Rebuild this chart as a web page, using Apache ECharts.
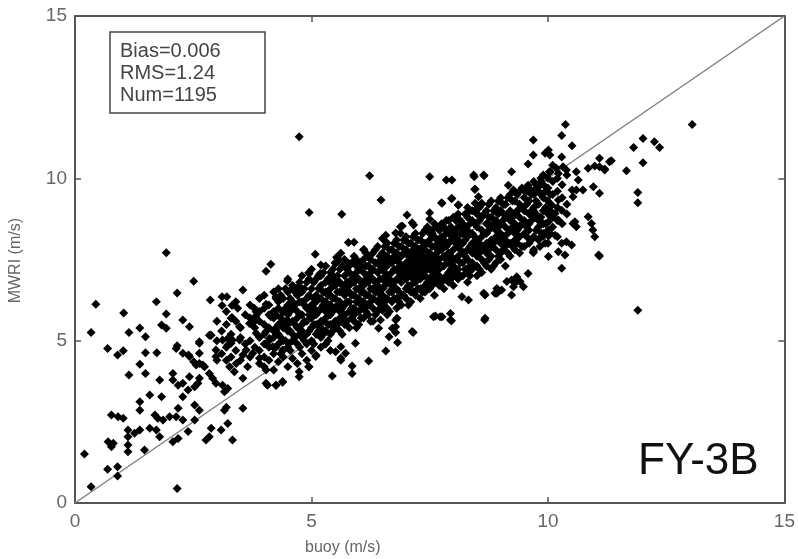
<!DOCTYPE html>
<html>
<head>
<meta charset="utf-8">
<title>FY-3B MWRI vs buoy</title>
<script src="https://cdn.jsdelivr.net/npm/echarts@6/dist/echarts.min.js"></script>
<style>
  html, body { margin: 0; padding: 0; background: #fff; }
  #chart { width: 798px; height: 559px; }
</style>
</head>
<body>
<div id="chart"></div>
<script>
// [buoy, MWRI] pairs (m/s)
const leftPts = [
  [0.44,6.12],[0.34,5.25],[1.03,5.85],[1.14,5.25],[1.37,5.39],[1.49,5.12],[1.72,6.2],[1.93,5.82],[1.83,5.48],[1.93,5.38],
  [2.16,6.47],[2.51,6.83],[2.28,5.64],[2.42,5.43],[2.86,6.25],[2.86,5.17],[3.11,6.35],[3.21,6.35],[3.11,6.08],[3.32,6.08],
  [3.32,5.71],[3.44,6.0],[3.55,6.56],[4.04,7.14],[4.14,7.35],[4.25,6.35],[4.04,6.12],[4.49,6.84],[4.6,6.61],[4.74,6.68],
  [4.74,6.46],[4.94,7.09],[5.08,7.66],[4.94,6.35],[3.79,6.0],[3.83,5.77],[3.72,5.53],[4.14,5.74],[4.39,5.89],[4.49,5.64],
  [0.69,4.76],[0.9,4.56],[1.02,4.69],[1.49,4.63],[1.73,4.63],[1.37,4.27],[1.14,3.94],[1.49,3.99],[2.16,4.84],[2.28,4.61],
  [2.4,4.56],[2.63,4.92],[2.63,4.61],[2.51,4.35],[2.63,4.3],[2.74,4.2],[2.88,5.17],[2.98,4.71],[2.98,4.51],[3.12,5.02],
  [3.23,4.87],[3.33,5.02],[3.2,4.4],[3.27,4.2],[3.37,4.04],[3.41,4.3],[3.55,4.56],[3.65,4.2],[1.79,3.79],[2.07,3.99],
  [2.07,3.79],[2.18,3.63],[2.28,3.69],[2.39,3.48],[2.53,3.58],[2.6,3.69],[2.63,3.84],[2.42,3.89],[2.84,3.99],[2.91,3.84],
  [2.98,3.69],[3.12,3.63],[3.16,3.43],[3.23,3.53],[1.58,3.33],[1.37,3.12],[1.37,2.86],[1.83,3.27],[2.28,3.27],[0.77,2.71],
  [0.91,2.66],[1.02,2.61],[1.69,2.71],[1.75,2.61],[1.86,2.56],[2.0,2.66],[2.14,2.66],[2.28,2.56],[2.18,2.92],[2.53,3.02],
  [2.63,2.86],[2.53,2.56],[3.16,2.86],[3.2,2.95],[3.55,2.92],[1.12,2.25],[1.12,2.04],[1.12,1.79],[1.12,1.58],[1.26,2.15],
  [1.37,2.25],[1.58,2.3],[1.72,2.25],[1.79,2.04],[0.7,1.89],[0.77,1.73],[0.81,1.84],[1.47,1.63],[2.07,1.89],[2.18,1.99],
  [2.39,2.2],[2.77,1.94],[2.84,2.04],[2.88,2.3],[3.09,2.25],[3.23,2.45],[3.33,1.94],[0.2,1.51],[0.69,1.04],[0.9,1.12],
  [0.9,0.83],[0.34,0.5],[2.16,0.45],[4.04,3.69],[4.25,3.63],[4.39,3.72],[4.74,4.04],[4.74,3.89],[4.94,4.2],[3.55,3.84],
  [4.04,4.1],[2.84,5.17],[2.63,4.97],[2.14,4.76],[3.23,5.07],[3.3,4.92],[3.48,5.02],[3.83,5.23],[4.04,5.28],[4.11,5.07],
  [4.25,5.33],[3.62,4.71],[3.76,4.61],[3.9,4.46],[2.42,4.51],[2.56,4.25],[2.7,4.25],[4.18,4.81],[4.39,4.71],[4.53,4.92],
  [3.3,5.69],[3.48,5.43],[3.69,5.53],[3.83,5.89],[1.93,7.71]
];

const upperPts = [
  [4.74,11.28],[4.95,8.95],[5.64,8.89],[6.23,10.08],[6.47,9.33],[7.5,10.05],[7.85,9.95],[8.44,10.05],[8.65,10.08],[8.45,9.66],
  [8.53,9.43],[8.46,9.23],[8.6,9.23],[7.75,9.25],[7.96,9.38],[8.1,9.18],[7.5,8.94],[7.5,8.74],[7.02,8.87],[6.92,8.53],
  [7.13,8.63],[6.78,8.32],[6.88,8.31],[6.5,8.15],[6.57,8.05],[5.78,8.02],[5.62,7.69],[5.55,7.54],[5.51,7.38],[5.9,8.03],
  [6.11,7.81],[5.53,7.57],[5.58,7.48],[5.79,7.38],[5.93,7.33],[5.2,7.33],[5.18,7.07],[4.95,7.07],[5.44,7.02],[5.37,6.82],
  [7.76,9.23],[8.11,9.18],[7.16,8.56],[6.88,8.51],[6.57,8.25],[7.55,8.31],[7.86,8.36],[8.18,8.51],[8.53,8.87],[8.74,8.61],
  [8.95,8.51],[9.09,8.87],[9.37,9.02],[9.69,9.02],[7.97,9.95],[8.43,10.1],[8.64,10.1],[8.46,9.66],[7.97,9.38]
];

const lowerPts = [
  [8.88,6.46],[8.66,5.64],[8.66,6.43],[7.94,5.84],[7.94,5.64],[7.72,5.74],[7.58,5.74],[7.15,5.25],[6.82,4.94],[6.57,4.68],
  [6.21,4.37],[5.86,4.22],[5.86,3.99],[5.44,3.91],[4.95,4.2],[4.39,3.74],[4.25,3.63],[4.07,3.63],[5.62,4.46],[5.72,4.61],
  [6.78,5.25],[6.64,5.12],[8.95,6.51],[9.23,6.41],[9.48,6.66],[9.34,6.82],[7.62,5.76],[7.76,5.74],[7.96,5.61],[5.62,4.4],
  [5.51,4.66],[5.09,4.51],[6.42,5.38],[6.46,5.64],[6.81,5.69],[6.78,5.43],[5.93,4.92],[5.62,4.81],[9.58,7.07],[9.34,6.87],
  [9.13,6.82],[8.92,6.61],[8.67,6.41],[8.67,5.69],[7.13,5.28],[8.32,6.25],[8.18,6.35],[6.5,5.94],[6.78,5.64],[6.71,5.38],
  [9.41,6.82],[9.27,6.66],[9.02,6.56],[8.92,6.46],[8.64,6.46],[9.23,6.87]
];

const rightPts = [
  [10.37,11.66],[13.05,11.66],[9.69,11.18],[10.29,11.32],[10.51,11.0],[9.69,10.72],[9.58,10.44],[10.01,10.87],[9.94,10.77],[10.04,10.72],
  [10.29,10.66],[10.32,10.36],[10.18,10.31],[10.39,10.26],[10.03,10.2],[10.22,10.15],[10.6,10.2],[10.64,9.95],[10.6,9.64],[10.53,9.43],
  [10.51,9.64],[10.74,9.64],[10.85,10.31],[10.99,10.38],[11.09,10.62],[11.2,10.29],[11.34,10.54],[10.96,9.74],[11.09,9.54],[11.66,10.23],
  [11.81,10.95],[12.01,11.23],[12.25,11.13],[12.36,10.95],[12.01,10.48],[11.9,9.56],[11.9,9.25],[11.9,5.94],[10.85,8.82],[10.92,8.61],
  [10.99,8.2],[10.95,8.41],[10.53,8.61],[10.6,8.51],[10.57,8.66],[11.07,7.64],[10.29,7.23],[10.29,8.0],[10.36,7.64],[10.22,7.74],
  [10.5,7.95],[10.39,8.05],[10.15,8.25],[10.01,8.22],[9.9,8.22],[10.01,7.59],[9.69,7.71],[9.83,7.9],[9.34,6.97],[10.01,8.66],
  [10.15,8.92],[10.22,8.72],[10.22,9.33],[10.29,9.02],[10.08,9.18],[9.8,9.74],[9.86,9.9],[9.72,9.64],[9.58,9.79],[9.48,9.64],
  [9.23,10.2],[9.16,9.79],[9.27,9.64],[11.09,7.61],[11.3,10.51],[11.2,10.26],[11.09,10.36],[9.69,7.74],[9.94,8.0],[9.86,8.31]
];

// dense core: buoy value -> MWRI values stacked above it
const coreCols = [
  [3.0,[4.4,5.0,5.6]],[3.1,[4.6,5.3]],[3.2,[4.8,5.5,5.9]],[3.3,[4.5,5.2]],[3.4,[4.7,5.6,6.2]],
  [3.5,[4.4,5.1,5.4]],[3.6,[4.9,5.8]],[3.7,[4.5,5.0,5.7,6.1]],[3.8,[4.8,5.4,5.6]],
  [3.9,[4.3,4.7,5.1,5.6,5.9,6.3]],[4.0,[4.2,4.5,4.9,5.2,5.5,6.0,6.4]],[4.1,[4.4,4.8,5.0,5.4,5.8,6.1]],
  [4.2,[4.1,4.6,5.1,5.3,5.7,5.9,6.5]],[4.3,[4.35,4.9,5.2,5.5,6.0,6.2,6.6]],[4.4,[4.5,4.7,5.0,5.4,5.6,5.9,6.3]],
  [4.5,[4.2,4.8,5.3,5.5,5.8,6.1,6.5,6.9]],[4.6,[4.45,5.0,5.2,5.6,6.0,6.2,6.7]],[4.7,[4.3,4.9,5.4,5.7,5.9,6.4,6.6]],
  [4.8,[4.6,5.1,5.3,5.5,5.8,6.2,6.5,7.0]],[4.9,[4.4,4.9,5.2,5.6,6.0,6.3,6.8]],[5.0,[4.7,5.0,5.4,5.7,5.9,6.1,6.6,7.2]],
  [5.1,[4.55,5.2,5.5,5.8,6.2,6.4,6.9]],[5.2,[4.8,5.1,5.4,5.6,6.0,6.3,6.7,7.0]],[5.3,[4.9,5.3,5.7,5.9,6.2,6.5,6.8,7.3]],
  [5.4,[4.7,5.2,5.5,5.8,6.1,6.4,6.6,7.1]],[5.5,[5.4,5.6,6.0,6.3,6.7,6.9,7.4]],[5.6,[5.3,5.7,5.9,6.2,6.5,6.8,7.2]],
  [5.7,[5.5,5.8,6.1,6.4,6.6,7.0,7.5]],[5.8,[5.4,5.9,6.2,6.5,6.7,7.1,7.3]],[5.9,[5.6,5.8,6.0,6.4,6.8,7.0,7.6]],
  [6.0,[5.5,5.9,6.3,6.6,6.9,7.2,7.4]],[6.1,[5.7,6.0,6.2,6.5,6.7,7.1,7.5,7.8]],[6.2,[5.8,6.1,6.4,6.8,7.0,7.3,7.6]],
  [6.3,[5.6,6.0,6.3,6.6,6.9,7.2,7.7]],[6.4,[5.9,6.2,6.5,6.7,7.1,7.4,7.9]],[6.5,[6.1,6.4,6.6,6.9,7.2,7.5,7.7]],
  [6.6,[5.8,6.0,6.3,6.8,7.0,7.3,7.6,8.0]],[6.7,[6.2,6.5,6.7,7.1,7.4,7.8]],[6.8,[6.0,6.3,6.6,6.9,7.2,7.5,7.7,8.1]],
  [6.9,[6.1,6.4,6.8,7.0,7.3,7.6,7.9]],[7.0,[6.3,6.6,6.9,7.1,7.4,7.8,8.2]],[7.1,[6.2,6.5,6.7,7.0,7.2,7.5,7.7,8.0]],
  [7.2,[6.4,6.8,7.1,7.3,7.6,7.9,8.3]],[7.3,[6.3,6.6,6.9,7.2,7.4,7.7,8.1]],[7.4,[6.5,6.7,7.0,7.3,7.5,7.8,8.0,8.4]],
  [7.5,[6.6,6.9,7.2,7.4,7.7,8.1,8.3]],[7.6,[6.4,6.8,7.1,7.3,7.6,7.9,8.2,8.6]],[7.7,[6.7,7.0,7.2,7.5,7.8,8.0,8.4]],
  [7.8,[6.6,6.9,7.3,7.6,7.9,8.1,8.5]],[7.9,[6.8,7.1,7.4,7.7,8.0,8.3,8.7]],[8.0,[6.7,7.0,7.3,7.5,7.8,8.2,8.4,8.8]],
  [8.1,[6.9,7.2,7.6,7.9,8.1,8.5,8.9]],[8.2,[7.0,7.4,7.7,8.0,8.3,8.6]],[8.3,[6.8,7.1,7.5,7.8,8.2,8.4,8.8,9.1]],
  [8.4,[7.2,7.4,7.7,8.0,8.3,8.7,9.0]],[8.5,[7.0,7.3,7.6,7.9,8.1,8.5,8.9]],[8.6,[7.1,7.5,7.8,8.2,8.4,8.8,9.2]],
  [8.7,[7.3,7.7,8.0,8.3,8.6,9.0]],[8.8,[7.2,7.6,7.9,8.1,8.5,8.8,9.3]],[8.9,[7.4,7.8,8.2,8.4,8.7,9.1]],
  [9.0,[7.5,7.7,8.0,8.3,8.6,9.0,9.4]],[9.1,[7.3,7.9,8.1,8.5,8.8,9.2]],[9.2,[7.6,8.0,8.4,8.7,9.0,9.5]],
  [9.3,[7.8,8.1,8.3,8.6,8.9,9.3]],[9.4,[7.7,8.2,8.5,8.8,9.2,9.6]],[9.5,[7.9,8.3,8.7,9.0,9.4]],
  [9.6,[8.0,8.4,8.6,8.9,9.3,9.7]],[9.7,[7.8,8.2,8.8,9.1,9.5,9.9]],[9.8,[8.1,8.5,8.7,9.2,9.6]],
  [9.9,[8.3,8.6,9.0,9.4,9.8,10.1]],[10.0,[8.0,8.4,8.9,9.3,9.7,10.0]],[10.1,[8.5,8.8,9.5,9.9,10.4]],
  [10.2,[8.2,8.7,9.1,9.6,10.0]],[10.3,[8.6,9.4,9.8]],[10.4,[8.9,9.2,10.1]]
];

// core points sitting between the columns above
const coreCols2 = [
  [4.25,[4.8,5.4,5.8,6.3]],[4.35,[4.6,5.1,5.7,6.4]],[4.45,[5.0,5.5,6.0,6.6]],[4.55,[4.7,5.3,5.9,6.3]],
  [4.65,[5.1,5.5,6.1,6.5]],[4.75,[4.8,5.2,5.8,6.2,6.8]],[4.85,[5.0,5.6,6.1,6.6]],[4.95,[5.3,5.8,6.4,6.9]],
  [5.05,[4.9,5.5,6.0,6.3,6.8]],[5.15,[5.3,5.9,6.6,7.0]],[5.25,[5.2,5.6,6.1,6.5,7.1]],[5.35,[5.0,5.5,6.0,6.4,6.9]],
  [5.45,[5.3,5.9,6.3,6.8,7.2]],[5.55,[5.5,6.1,6.5,7.0]],[5.65,[5.2,5.6,6.0,6.7,7.3]],[5.75,[5.6,6.2,6.8,7.2]],
  [5.85,[5.7,6.0,6.4,6.9,7.4]],[5.95,[5.4,6.2,6.6,7.1,7.5]],[6.05,[5.7,6.1,6.5,6.8,7.3]],[6.15,[5.9,6.4,6.9,7.3,7.7]],
  [6.25,[5.6,6.2,6.6,7.1,7.5]],[6.35,[5.8,6.5,6.8,7.4,7.8]],[6.45,[6.0,6.3,6.9,7.3,7.6]],[6.55,[6.2,6.7,7.1,7.4,7.9]],
  [6.65,[5.9,6.5,6.9,7.5,7.8]],[6.75,[6.3,6.8,7.2,7.6,8.0]],[6.85,[6.2,6.5,7.1,7.4,7.9]],[6.95,[6.4,6.9,7.2,7.7,8.1]],
  [7.05,[6.1,6.7,7.3,7.6,8.0]],[7.15,[6.5,6.9,7.4,7.8,8.2]],[7.25,[6.6,7.0,7.5,7.8,8.1]],[7.35,[6.5,7.1,7.6,7.9,8.3]],
  [7.45,[6.8,7.2,7.6,8.0,8.5]],[7.55,[6.7,7.0,7.5,7.9,8.4]],[7.65,[6.9,7.4,7.7,8.1,8.5]],[7.75,[6.8,7.3,7.8,8.2,8.6]],
  [7.85,[7.0,7.5,7.9,8.3,8.7]],[7.95,[6.9,7.2,7.6,8.1,8.5]],[8.05,[7.1,7.5,8.0,8.3,8.7]],[8.15,[7.0,7.4,7.8,8.3,8.7]],
  [8.25,[7.2,7.6,8.1,8.5,8.9]],[8.35,[7.0,7.3,7.9,8.6,9.0]],[8.45,[7.3,7.8,8.2,8.6,9.0]],[8.55,[7.2,7.7,8.0,8.7,9.1]],
  [8.65,[7.4,7.9,8.3,8.9]],[8.75,[7.5,7.8,8.4,8.8,9.2]],[8.85,[7.3,8.0,8.6,9.0]],[8.95,[7.6,8.1,8.5,8.9,9.3]],
  [9.05,[7.8,8.2,8.7,9.2]],[9.15,[7.7,8.3,8.9,9.4]],[9.25,[7.9,8.5,8.8,9.3]],[9.35,[8.0,8.4,9.0,9.5]],
  [9.45,[7.9,8.6,9.1,9.7]],[9.55,[8.2,8.5,9.2,9.6]],[9.65,[8.1,8.7,9.0,9.5]],[9.75,[8.4,8.9,9.3,9.8]],
  [9.85,[8.2,8.8,9.5,10.0]],[9.95,[8.6,9.1,9.6]],[10.05,[8.3,9.0,9.5,10.2]]
];

const refLine = [[0, 0], [15, 15]];
const statsText = ['Bias=0.006', 'RMS=1.24', 'Num=1195'];
const satName = 'FY-3B';

const corePts = [];
coreCols.concat(coreCols2).forEach(([x, ys]) => ys.forEach(y => corePts.push([x, y])));
const allPts = leftPts.concat(upperPts, lowerPts, rightPts, corePts);

const chart = echarts.init(document.getElementById('chart'));
const font = '"Liberation Sans", Arial, sans-serif';

const frameAxis = (extra) => Object.assign({
  type: 'value',
  min: 0,
  max: 15,
  interval: 5,
  splitLine: { show: false },
  axisLine: { show: true, onZero: false, lineStyle: { color: '#555', width: 2 } },
  axisTick: { show: true, inside: true, length: 6, lineStyle: { color: '#555', width: 1.5 } }
}, extra);

chart.setOption({
  animation: false,
  backgroundColor: '#fff',
  grid: { left: 75, right: 11, top: 16, bottom: 56 },
  xAxis: [
    frameAxis({
      position: 'bottom',
      axisLabel: { color: '#666', fontSize: 19, fontFamily: font, margin: 9 }
    }),
    frameAxis({ position: 'top', axisLabel: { show: false } })
  ],
  yAxis: [
    frameAxis({
      position: 'left',
      axisLabel: { color: '#666', fontSize: 19, fontFamily: font, margin: 8 }
    }),
    frameAxis({ position: 'right', axisLabel: { show: false } })
  ],
  series: [
    {
      type: 'line',
      data: refLine,
      symbol: 'none',
      silent: true,
      lineStyle: { color: '#808080', width: 1.5 },
      z: 1
    },
    {
      type: 'scatter',
      data: allPts,
      symbol: 'diamond',
      symbolSize: 9,
      itemStyle: { color: '#000', opacity: 1 },
      z: 2
    }
  ],
  graphic: [
    {
      type: 'rect',
      shape: { x: 110, y: 32, width: 155, height: 81 },
      style: { fill: '#fff', stroke: '#444', lineWidth: 1.5 },
      z: 10
    },
    ...statsText.map((t, i) => ({
      type: 'text',
      left: 120,
      top: 41 + i * 22,
      style: { text: t, fill: '#444', font: '20px ' + font },
      z: 11
    })),
    {
      type: 'text',
      left: 638,
      top: 440,
      style: { text: satName, fill: '#111', font: '44px ' + font },
      z: 11
    },
    {
      type: 'text',
      left: 305,
      top: 540,
      style: { text: 'buoy (m/s)', fill: '#666', font: '16px ' + font },
      z: 11
    },
    {
      type: 'text',
      left: 8,
      top: 218,
      rotation: Math.PI / 2,
      style: { text: 'MWRI (m/s)', fill: '#666', font: '16px ' + font },
      z: 11
    }
  ]
});
</script>
</body>
</html>
